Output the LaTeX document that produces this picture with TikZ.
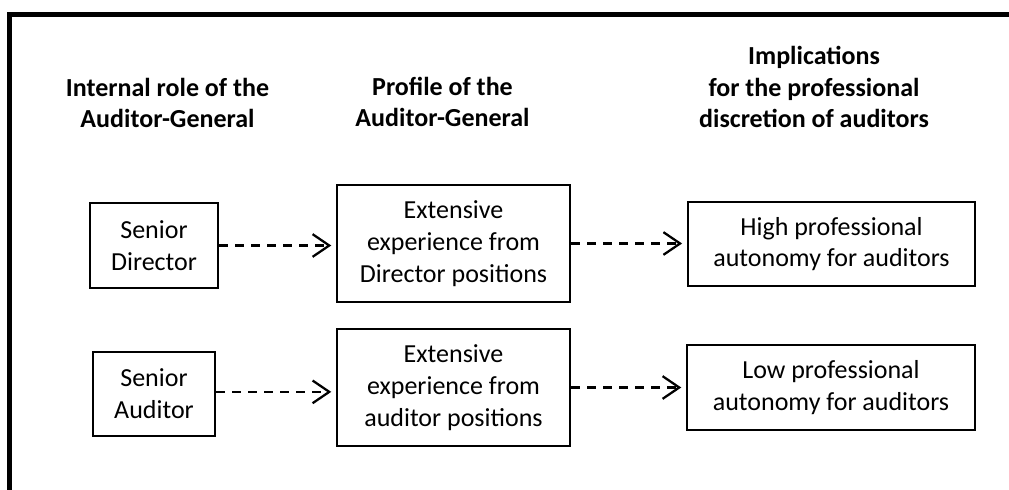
\documentclass[tikz,border=0pt]{standalone}
\usepackage{fontspec}
\setmainfont{Carlito}
\usepackage{tikz}
\usetikzlibrary{arrows.meta}
\tikzset{>={Straight Barb[length=12.5pt,width=17pt]}}
\tikzset{
  head/.style={align=center,inner sep=0pt,
    font=\fontsize{19.5}{23.8}\selectfont\bfseries},
  box/.style={draw,line width=1.6pt,align=center,inner sep=0pt,
    font=\fontsize{19.5}{23.8}\selectfont},
  link/.style={->,line width=1.7pt,dash pattern=on 7pt off 5pt,
    shorten >=3.5pt}
}

\begin{document}
\begin{tikzpicture}[x=0.75pt,y=-0.75pt]
      \useasboundingbox (0,0) rectangle (1009,489);

      \draw [line width=3.75pt] (1012,14.5) -- (9.5,14.5) -- (9.5,492);

      \node [head] (h0) at (167.5,103) {Internal role of the\\Auditor-General};
      \node [head] (h1) at (442.5,102) {Profile of the\\Auditor-General};
      \node [head] (h2) at (814,87) {Implications\\for the professional\\discretion of auditors};

      \node [box,minimum width=96pt,minimum height=63.75pt] (sd) at (154,245.5)
      {Senior\\Director};
      \node [box,minimum width=91.5pt,minimum height=63pt] (sa) at (154,394)
      {Senior\\Auditor};

      \node [box,minimum width=174.75pt,minimum height=87.75pt] (m0) at (453.5,243.5)
      {Extensive\\experience from\\Director positions};
      \node [box,minimum width=174.75pt,minimum height=87.75pt] (m1) at (453.5,387.5)
      {Extensive\\experience from\\auditor positions};

      \node [box,minimum width=215.5pt,minimum height=63pt] (r0) at (831.5,244)
      {High professional\\autonomy for auditors};
      \node [box,minimum width=216pt,minimum height=63.75pt] (r1) at (831,387.5)
      {Low professional\\autonomy for auditors};

      \draw [link] (sd.east) -- (sd.east -| m0.west);
      \draw [link] (m0.east) -- (m0.east -| r0.west);
      \draw [link] ([yshift=1.6pt]sa.east) -- ([yshift=1.6pt]sa.east -| m1.west);
      \draw [link] (m1.east) -- (m1.east -| r1.west);
\end{tikzpicture}
\end{document}
